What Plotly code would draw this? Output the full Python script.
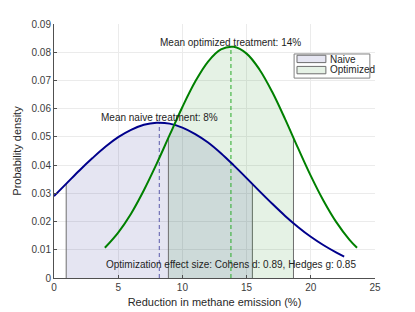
import numpy as np
import plotly.graph_objects as go

# ---- data ----
naive_x = [0, 1, 2, 3, 4, 5, 6, 7, 8, 9, 10, 11, 12, 13, 14, 15, 16, 17, 18, 19, 20, 21, 22, 22.6]
naive_y = [0.0290, 0.0336, 0.0382, 0.0425, 0.0465, 0.0499, 0.0525, 0.0543, 0.0550, 0.0547,
           0.0533, 0.0510, 0.0480, 0.0442, 0.0399, 0.0354, 0.0308, 0.0263, 0.0220, 0.0181,
           0.0146, 0.0116, 0.0090, 0.0076]
opt_x = [3.96, 5, 6, 7, 8, 9, 10, 11, 12, 13, 14, 15, 16, 17, 18, 19, 20, 21, 22, 23, 23.6]
opt_y = [0.0107, 0.0161, 0.0228, 0.0311, 0.0405, 0.0506, 0.0606, 0.0696, 0.0767, 0.0810,
         0.0819, 0.0795, 0.0739, 0.0659, 0.0563, 0.0461, 0.0362, 0.0273, 0.0197, 0.0136, 0.0107]
naive_mean = 8.2
opt_mean = 13.78
naive_band = [0.95, 15.45]
opt_band = [8.91, 18.65]
mean_labels = ["Mean naive treatment: 8%", "Mean optimized treatment: 14%"]
effect_label = "Optimization effect size: Cohens d: 0.89, Hedges g: 0.85"
legend_names = ["Naive", "Optimized"]

NAVY = "rgb(0,0,140)"
GREEN = "rgb(0,128,0)"
NAVY_FILL = "rgba(0,0,128,0.1)"
GREEN_FILL = "rgba(0,128,0,0.1)"
EDGE = "rgb(110,110,110)"


def band(xs, ys, lo, hi):
    xs = np.asarray(xs, float)
    ys = np.asarray(ys, float)
    inner = (xs > lo) & (xs < hi)
    bx = np.concatenate([[lo], xs[inner], [hi]])
    by = np.concatenate([[np.interp(lo, xs, ys)], ys[inner], [np.interp(hi, xs, ys)]])
    return bx, by


fig = go.Figure()

for xs, ys, b, fc in [(naive_x, naive_y, naive_band, NAVY_FILL), (opt_x, opt_y, opt_band, GREEN_FILL)]:
    bx, by = band(xs, ys, b[0], b[1])
    fig.add_trace(go.Scatter(x=bx, y=by, mode="lines", line=dict(width=0, shape="spline"),
                             fill="tozeroy", fillcolor=fc, hoverinfo="skip", showlegend=False))
    for edge_x, edge_y in [(bx[0], by[0]), (bx[-1], by[-1])]:
        fig.add_trace(go.Scatter(x=[edge_x, edge_x], y=[0, edge_y], mode="lines",
                                 line=dict(color=EDGE, width=1), hoverinfo="skip", showlegend=False))

# mean lines
fig.add_trace(go.Scatter(x=[naive_mean, naive_mean], y=[0, float(np.interp(naive_mean, naive_x, naive_y))],
                         mode="lines", line=dict(color="rgb(90,90,170)", width=1, dash="4px,3px"),
                         showlegend=False))
fig.add_trace(go.Scatter(x=[opt_mean, opt_mean], y=[0, float(np.interp(opt_mean, opt_x, opt_y))],
                         mode="lines", line=dict(color="rgb(40,170,40)", width=1, dash="4px,3px"),
                         showlegend=False))

# curves
fig.add_trace(go.Scatter(x=naive_x, y=naive_y, mode="lines", line=dict(color=NAVY, width=2, shape="spline"),
                         name=legend_names[0], showlegend=False))
fig.add_trace(go.Scatter(x=opt_x, y=opt_y, mode="lines", line=dict(color=GREEN, width=2, shape="spline"),
                         name=legend_names[1], showlegend=False))

FONT = "Liberation Sans, Arial, sans-serif"
ann = [
    dict(x=naive_mean, y=0.0570, text=mean_labels[0]),
    dict(x=opt_mean, y=0.0836, text=mean_labels[1]),
    dict(x=opt_mean, y=0.00485, text=effect_label),
]
for a in ann:
    fig.add_annotation(x=a["x"], y=a["y"], text=a["text"], showarrow=False, xanchor="center",
                       yanchor="middle", font=dict(size=10, color="rgb(30,30,30)", family=FONT))

# manual legend
shapes = [
    dict(type="rect", xref="paper", yref="paper", x0=0.748, x1=0.984, y0=0.787, y1=0.882,
         line=dict(color="rgb(130,130,130)", width=1), fillcolor="white"),
    dict(type="rect", xref="paper", yref="paper", x0=0.757, x1=0.847, y0=0.848, y1=0.877,
         line=dict(color="rgb(110,110,110)", width=1), fillcolor="rgb(230,230,242)"),
    dict(type="rect", xref="paper", yref="paper", x0=0.757, x1=0.847, y0=0.804, y1=0.833,
         line=dict(color="rgb(110,110,110)", width=1), fillcolor="rgb(230,242,230)"),
]
for s in shapes:
    fig.add_shape(**s)
for name, yp in zip(legend_names, [0.862, 0.819]):
    fig.add_annotation(xref="paper", yref="paper", x=0.855, y=yp, text=name, showarrow=False,
                       xanchor="left", yanchor="middle", font=dict(size=10, color="rgb(30,30,30)", family=FONT))

axis_common = dict(showgrid=True, gridcolor="rgb(235,235,235)", gridwidth=1, zeroline=False,
                   showline=True, linecolor="rgb(80,80,80)", linewidth=1, ticks="inside", ticklen=3,
                   tickcolor="rgb(80,80,80)", tickfont=dict(size=10, color="rgb(60,60,60)", family=FONT),
                   mirror=False, automargin=False)
fig.update_layout(
    width=415, height=312,
    margin=dict(l=46, r=48, t=16, b=42),
    paper_bgcolor="white", plot_bgcolor="white",
    font=dict(family=FONT),
    xaxis=dict(range=[0, 25], dtick=5, tick0=0,
               title=dict(text="Reduction in methane emission (%)", standoff=6,
                          font=dict(size=11, color="rgb(40,40,40)", family=FONT)), **axis_common),
    yaxis=dict(range=[0, 0.09], dtick=0.01, tick0=0,
               title=dict(text="Probability density", standoff=7,
                          font=dict(size=11, color="rgb(40,40,40)", family=FONT)), **axis_common),
    showlegend=False,
)

fig.write_html("out.html")
